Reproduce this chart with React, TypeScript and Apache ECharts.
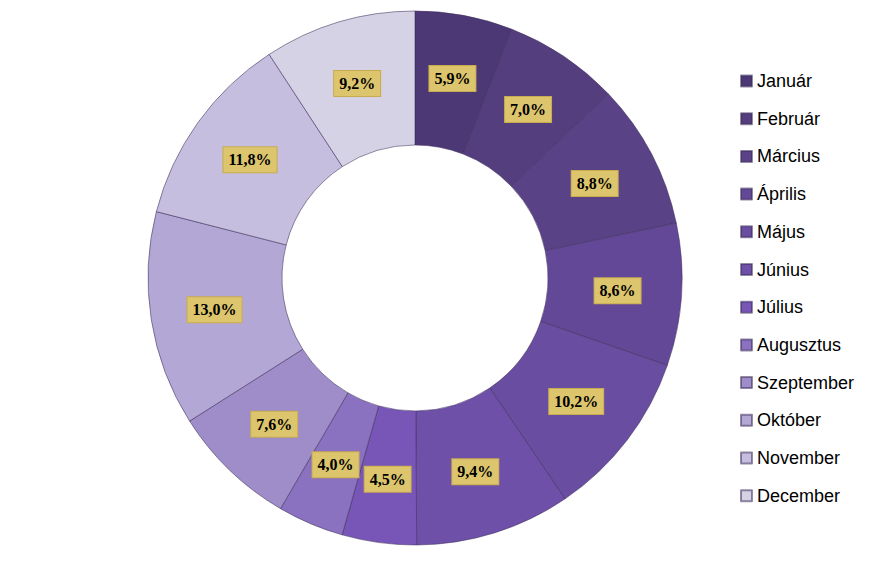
import React, { useEffect, useRef } from "react";
import * as echarts from "echarts";

const months = [
  "Január", "Február", "Március", "Április", "Május", "Június",
  "Július", "Augusztus", "Szeptember", "Október", "November", "December",
];
const shares = [5.9, 7.0, 8.8, 8.6, 10.2, 9.4, 4.5, 4.0, 7.6, 13.0, 11.8, 9.2];
const colors = [
  "#4d3876", "#543e7e", "#5a4287", "#634897", "#694da1", "#6e50a9",
  "#7856b8", "#8b72c0", "#9e8dc8", "#b3a8d5", "#c5bede", "#d6d2e5",
];

export default function App() {
  const ref = useRef<HTMLDivElement>(null);
  useEffect(() => {
    if (!ref.current) return;
    const chart = echarts.init(ref.current, undefined, { renderer: "svg" });
    chart.setOption({
      animation: false,
      backgroundColor: "#ffffff",
      color: colors,
      legend: {
        orient: "vertical",
        left: 735,
        top: 65,
        icon: "rect",
        itemWidth: 11,
        itemHeight: 11,
        itemGap: 15.7,
        textStyle: {
          fontFamily: "Liberation Sans",
          fontSize: 18,
          lineHeight: 22,
          color: "#000",
        },
        data: months,
      },
      series: [
        {
          type: "pie",
          center: [415, 278],
          radius: [133, 267],
          startAngle: 90,
          clockwise: true,
          avoidLabelOverlap: false,
          itemStyle: {
            borderColor: "rgba(60,45,90,0.55)",
            borderWidth: 1,
          },
          label: {
            show: true,
            position: "inside",
            formatter: (p: any) => p.value.toFixed(1).replace(".", ",") + "%",
            fontFamily: "Liberation Serif",
            fontWeight: "bold",
            fontSize: 16,
            color: "#000",
            backgroundColor: "#dcc56c",
            borderColor: "#c9ab4f",
            borderWidth: 1,
            padding: [5, 5, 4, 5],
          },
          labelLine: { show: false },
          data: months.map((m, i) => ({ name: m, value: shares[i] })),
        },
      ],
    });
    return () => chart.dispose();
  }, []);
  return (
    <div
      ref={ref}
      style={{ position: "fixed", left: 0, top: 0, width: 880, height: 578 }}
    />
  );
}
